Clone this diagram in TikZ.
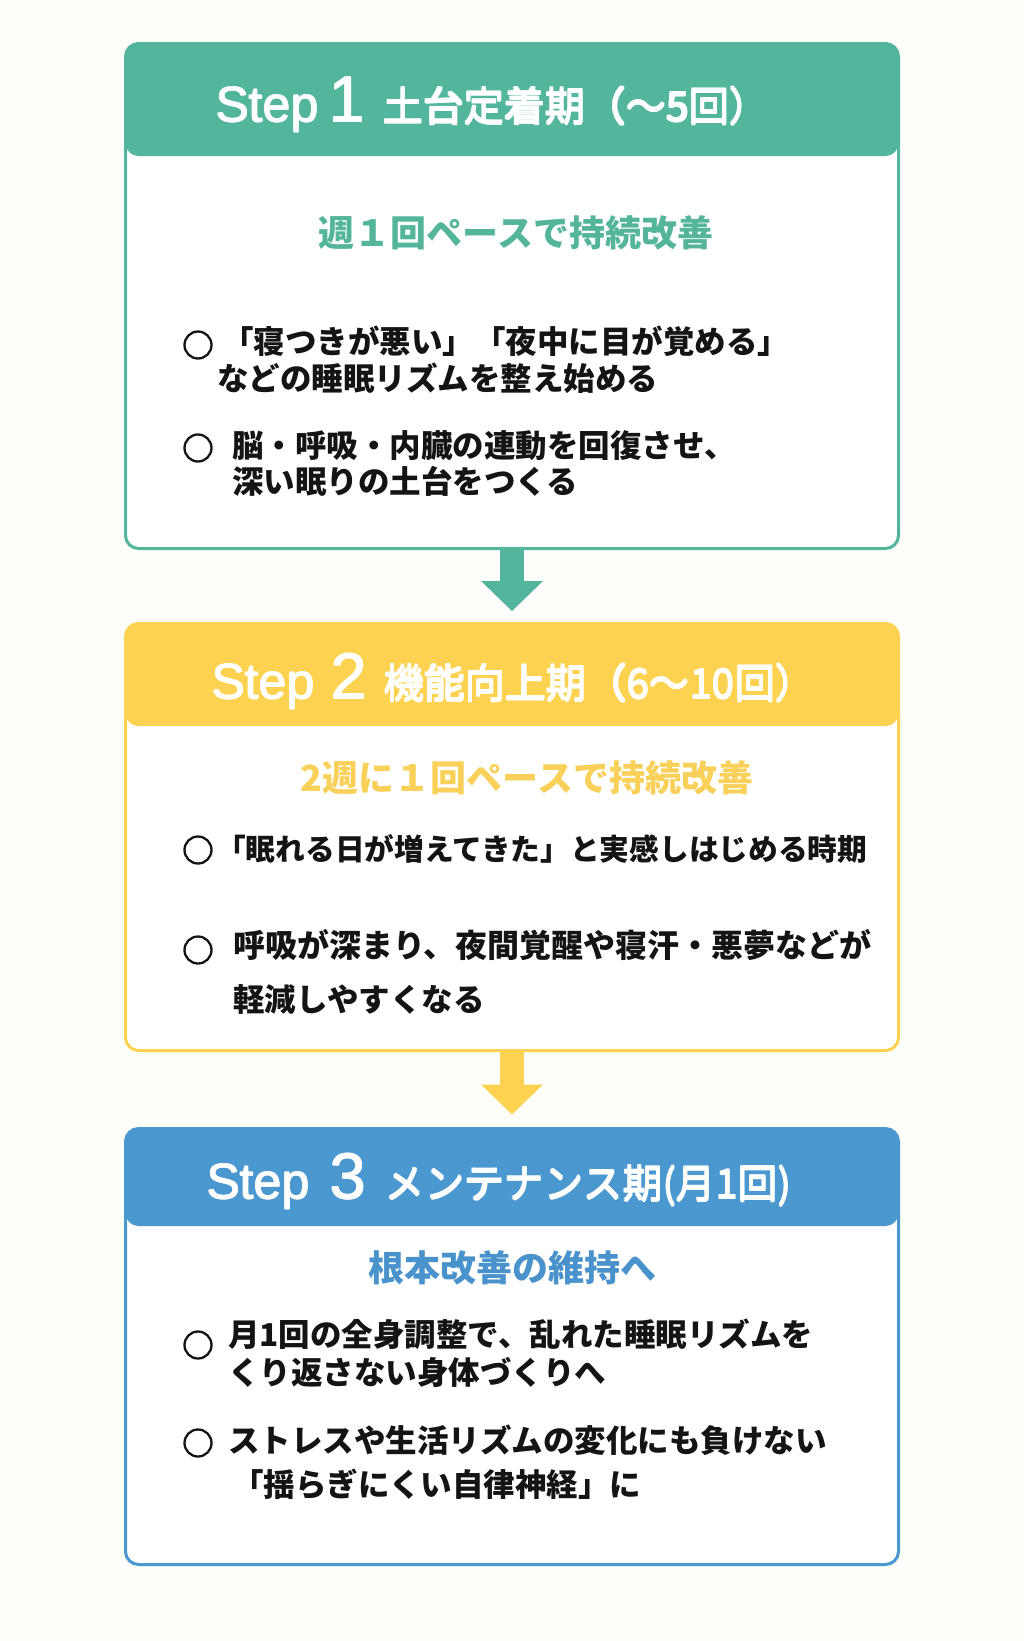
\documentclass[tikz,border=0pt]{standalone}
\usepackage{fontspec}
\setmainfont{Noto Sans CJK JP}
\newfontfamily\latinfont{Liberation Sans}
\newcommand\medweight[2]{\makebox[0pt][l]{#2}\makebox[0pt][l]{\raisebox{#1}{#2}}\kern#1\relax\makebox[0pt][l]{#2}\raisebox{#1}{#2}}
\usetikzlibrary{arrows.meta}
\definecolor{bgc}{HTML}{FDFDF9}
\definecolor{tealc}{HTML}{53B69C}
\definecolor{yelc}{HTML}{FCD250}
\definecolor{bluc}{HTML}{4B97CF}
\definecolor{tealtx}{HTML}{55B59B}
\definecolor{yeltx}{HTML}{F9D15A}
\definecolor{blutx}{HTML}{4A92CB}
\definecolor{ink}{HTML}{141414}
\tikzset{
  stepbox/.style n args={3}{draw=#1, line width=3pt, fill=white, rounded corners=13pt,
    minimum width=773pt, minimum height=#2, anchor=north west, inner sep=0pt, outer sep=0pt,
    path picture={\fill[#1] (path picture bounding box.north west) rectangle
      ([yshift=-#3]path picture bounding box.north east);}},
  steplbl/.style={anchor=base west, inner sep=0pt, text=white, font=\fontsize{50}{50}\selectfont\latinfont},
  stepnum/.style={anchor=base west, inner sep=0pt, text=white, font=\fontsize{65}{65}\selectfont\latinfont},
  steptitle/.style={anchor=base west, inner sep=0pt, text=white, font=\fontsize{40.5}{40.5}\selectfont},
  subttl/.style={inner sep=0pt, text=#1, font=\fontsize{36}{36}\selectfont\bfseries},
  bmark/.style={circle, draw=ink, line width=2.3pt, minimum size=27pt, inner sep=0pt},
  btext/.style={anchor=west, inner sep=0pt, text=ink, font=\fontsize{31.5}{31.5}\selectfont\bfseries},
  conn/.style={draw=#1, line width=24pt, -{Triangle[length=30pt, width=62pt, line width=0pt]}},
}
\begin{document}
\begin{tikzpicture}[x=1pt,y=-1pt]
\fill[bgc] (0,0) rectangle (1024,1641);
\useasboundingbox (0,0) rectangle (1024,1641);

% Step 1
\node[stepbox={tealc}{505pt}{112.5pt}] (s1) at (125.5,43.5) {};
\node[steplbl] (s1a) at (215,122) {\medweight{1pt}{Step}};
\node[stepnum] (s1n) at (328,122) {\medweight{1pt}{1}};
\node[steptitle] (s1t) at (382,122) {\medweight{1.3pt}{土台定着期（～5回）}};
\node[subttl=tealtx] (s1s) at (516,233) {週１回ペースで持続改善};
\node[bmark] (s1c1) at (198,345) {};
\node[btext] (s1l1) at (222,341) {「寝つきが悪い」「夜中に目が覚める」};
\node[btext] (s1l2) at (217,378) {などの睡眠リズムを整え始める};
\node[bmark] (s1c2) at (198,448) {};
\node[btext] (s1l3) at (232,446) {脳・呼吸・内臓の連動を回復させ、};
\node[btext] (s1l4) at (232,481) {深い眠りの土台をつくる};

% Step 2
\node[stepbox={yelc}{427pt}{102.5pt}] (s2) at (125.5,623.5) {};
\node[steplbl] (s2a) at (211,699) {\medweight{1pt}{Step}};
\node[stepnum] (s2n) at (330,699) {\medweight{1pt}{2}};
\node[steptitle] (s2t) at (383,699) {\medweight{1.3pt}{機能向上期（6～10回）}};
\node[subttl=yeltx] (s2s) at (527,778) {2週に１回ペースで持続改善};
\node[bmark] (s2c1) at (198,850) {};
\node[btext, font=\fontsize{29.7}{29.7}\selectfont\bfseries] (s2l1) at (216,849) {「眠れる日が増えてきた」と実感しはじめる時期};
\node[bmark] (s2c2) at (198,950) {};
\node[btext, font=\fontsize{32}{32}\selectfont\bfseries] (s2l2) at (233,945) {呼吸が深まり、夜間覚醒や寝汗・悪夢などが};
\node[btext] (s2l3) at (233,999) {軽減しやすくなる};

% Step 3
\node[stepbox={bluc}{436pt}{97.5pt}] (s3) at (125.5,1128.5) {};
\node[steplbl] (s3a) at (206,1199) {\medweight{1pt}{Step}};
\node[stepnum] (s3n) at (329,1199) {\medweight{1pt}{3}};
\node[steptitle, font=\fontsize{39.8}{39.8}\selectfont] (s3t) at (384,1199) {\medweight{1.3pt}{メンテナンス期(月1回)}};
\node[subttl=blutx] (s3s) at (512,1268) {根本改善の維持へ};
\node[bmark] (s3c1) at (198,1345) {};
\node[btext] (s3l1) at (228,1334) {月1回の全身調整で、乱れた睡眠リズムを};
\node[btext] (s3l2) at (228,1372) {くり返さない身体づくりへ};
\node[bmark] (s3c2) at (198,1443) {};
\node[btext] (s3l3) at (228,1440) {ストレスや生活リズムの変化にも負けない};
\node[btext] (s3l4) at (232,1484) {「揺らぎにくい自律神経」に};

% connectors
\draw[conn=tealc] (s1.south) -- ([yshift=12.5pt]s2.north);
\draw[conn=yelc] (s2.south) -- ([yshift=14pt]s3.north);
\end{tikzpicture}
\end{document}
